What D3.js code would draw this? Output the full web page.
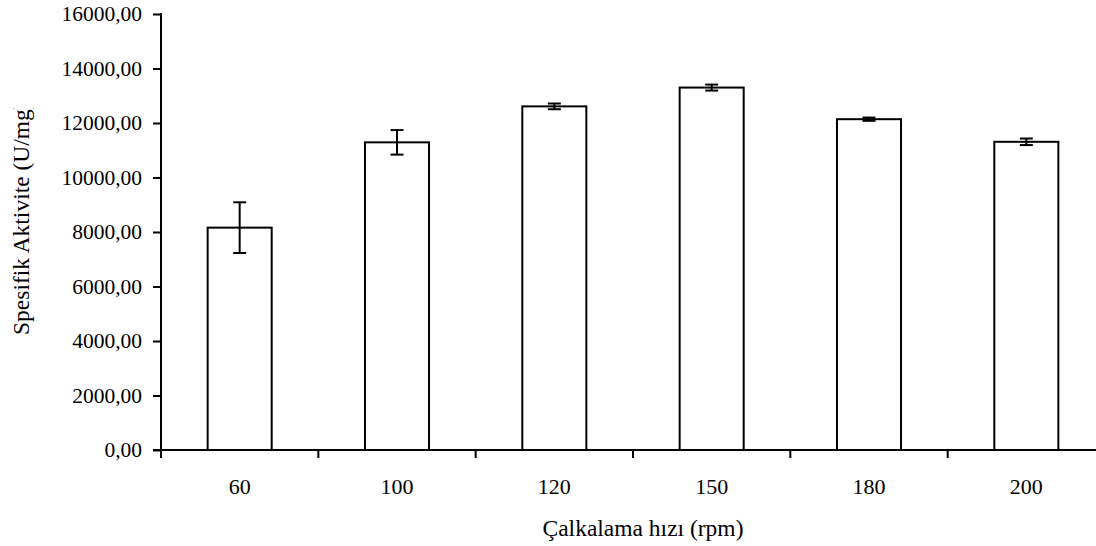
<!DOCTYPE html>
<html lang="tr">
<head>
  <meta charset="UTF-8">
  <title>Spesifik Aktivite</title>
  <script src="https://d3js.org/d3.v7.min.js"></script>
  <style>
    body { margin: 0; background: #fff; }
    svg text { font-family: "Liberation Serif", "Times New Roman", serif; fill: #000; }
  </style>
</head>
<body>
  <div id="chart"></div>
  <script>
    // data
    const speeds = ["60", "100", "120", "150", "180", "200"];
    const activity = [8160, 11290, 12610, 13300, 12140, 11310];
    const errors = [930, 450, 105, 110, 60, 120];
    const yTicks = [0, 2000, 4000, 6000, 8000, 10000, 12000, 14000, 16000];

    const W = 1096, H = 546;
    const svg = d3.select("#chart").append("svg")
      .attr("width", W)
      .attr("height", H);

    //scales
    const x = d3.scaleBand()
      .domain(speeds)
      .range([161, 1105])
      .paddingInner(0.593)
      .paddingOuter(0.2965);
    const y = d3.scaleLinear()
      .domain([0, 16000])
      .range([450, 14]);

    const fmt = d => d3.format(".2f")(d).replace(".", ",");

    //y axis
    const yAxis = svg.append("g")
      .attr("transform", `translate(${x.range()[0]},0)`)
      .call(d3.axisLeft(y).tickValues(yTicks).tickFormat(fmt).tickSize(8).tickSizeOuter(0).tickPadding(11));
    yAxis.attr("font-family", null).attr("font-size", null);
    yAxis.select(".domain").remove();
    yAxis.selectAll("line").attr("stroke", "#000").attr("stroke-width", 2);
    yAxis.selectAll("text").style("font-size", "21.5px");
    svg.append("line")
      .attr("x1", x.range()[0]).attr("x2", x.range()[0])
      .attr("y1", y(16000) - 1).attr("y2", y(0) + 8)
      .attr("stroke", "#000").attr("stroke-width", 2);

    //x axis line + boundary ticks
    svg.append("line")
      .attr("x1", x.range()[0] - 8).attr("x2", x.range()[1])
      .attr("y1", y(0)).attr("y2", y(0))
      .attr("stroke", "#000").attr("stroke-width", 2);
    const bounds = d3.range(speeds.length + 1).map(i => x.range()[0] + i * x.step());
    svg.selectAll(".xtick")
      .data(bounds)
      .enter().append("line")
      .attr("class", "xtick")
      .attr("x1", d => d).attr("x2", d => d)
      .attr("y1", y(0)).attr("y2", y(0) + 8)
      .attr("stroke", "#000").attr("stroke-width", 2);

    //x tick labels
    svg.selectAll(".xlabel")
      .data(speeds)
      .enter().append("text")
      .attr("class", "xlabel")
      .attr("x", d => x(d) + x.bandwidth() / 2)
      .attr("y", 494)
      .attr("text-anchor", "middle")
      .style("font-size", "22px")
      .text(d => d);

    //bars
    svg.selectAll(".bar")
      .data(speeds)
      .enter().append("rect")
      .attr("class", "bar")
      .attr("x", d => x(d))
      .attr("y", (d, i) => y(activity[i]))
      .attr("width", x.bandwidth())
      .attr("height", (d, i) => y(0) - y(activity[i]))
      .attr("fill", "#fff")
      .attr("stroke", "#000")
      .attr("stroke-width", 2);

    //error bars
    const eb = svg.selectAll(".err")
      .data(speeds)
      .enter().append("g")
      .attr("class", "err")
      .attr("transform", d => `translate(${x(d) + x.bandwidth() / 2},0)`);
    eb.append("line")
      .attr("y1", (d, i) => y(activity[i] + errors[i]))
      .attr("y2", (d, i) => y(activity[i] - errors[i]))
      .attr("stroke", "#000").attr("stroke-width", 2);
    eb.append("line")
      .attr("x1", -6.5).attr("x2", 6.5)
      .attr("y1", (d, i) => y(activity[i] + errors[i]))
      .attr("y2", (d, i) => y(activity[i] + errors[i]))
      .attr("stroke", "#000").attr("stroke-width", 2);
    eb.append("line")
      .attr("x1", -6.5).attr("x2", 6.5)
      .attr("y1", (d, i) => y(activity[i] - errors[i]))
      .attr("y2", (d, i) => y(activity[i] - errors[i]))
      .attr("stroke", "#000").attr("stroke-width", 2);

    //axis titles
    svg.append("text")
      .attr("x", 643)
      .attr("y", 536)
      .attr("text-anchor", "middle")
      .style("font-size", "23.5px")
      .text("Çalkalama hızı (rpm)");

    // y title, end is cut off like in the original
    svg.append("clipPath").attr("id", "ytclip")
      .append("rect").attr("x", 0).attr("y", 108).attr("width", 60).attr("height", 300);
    svg.append("g")
      .attr("clip-path", "url(#ytclip)")
      .append("text")
      .attr("transform", "translate(29,335) rotate(-90)")
      .attr("text-anchor", "start")
      .style("font-size", "23.5px")
      .text("Spesifik Aktivite (U/mg)");
  </script>
</body>
</html>
